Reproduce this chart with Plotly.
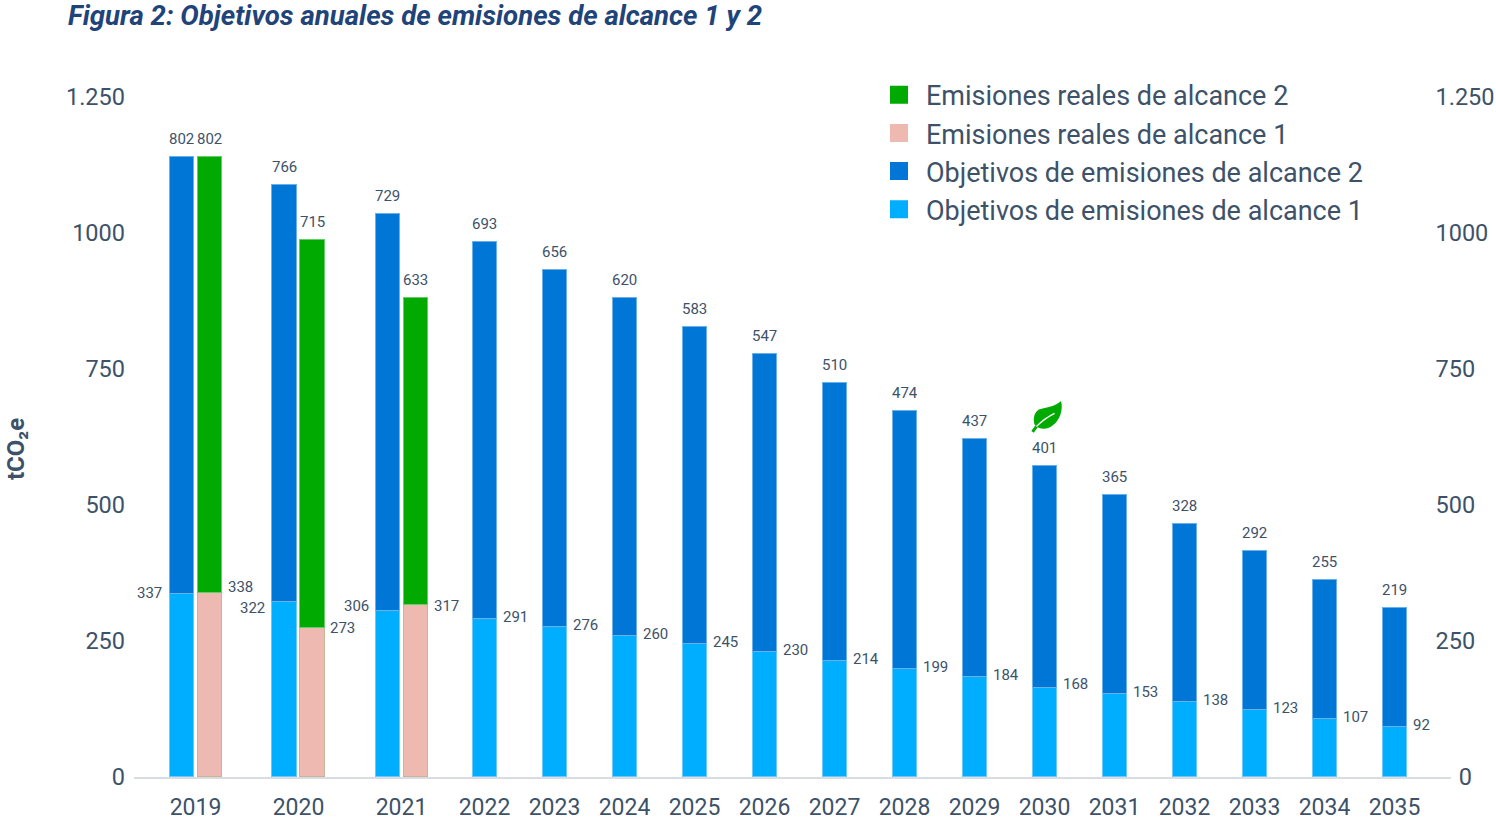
import plotly.graph_objects as go

years = list(range(2019, 2036))
target_s1_labels = [337, 322, 306, 291, 276, 260, 245, 230, 214, 199, 184, 168, 153, 138, 123, 107, 92]
target_s2_labels = [802, 766, 729, 693, 656, 620, 583, 547, 510, 474, 437, 401, 365, 328, 292, 255, 219]
# drawn bar heights (2030 is drawn slightly differently from its printed labels in the picture)
target_s1 = [337, 322, 306, 291, 276, 260, 245, 230, 214, 199, 184, 163, 153, 138, 123, 107, 92]
target_s2 = [802, 766, 729, 693, 656, 620, 583, 547, 510, 474, 437, 408, 365, 328, 292, 255, 219]
actual_years = [2019, 2020, 2021]
actual_s1 = [338, 273, 317]
actual_s2 = [802, 715, 563]          # drawn heights
actual_s2_labels = [802, 715, 633]   # printed labels (2021 label differs from its bar in the picture)
y_ticks = [0, 250, 500, 750, 1000, 1250]
y_ticktext = ["0", "250", "500", "750", "1000", "1.250"]
y2_ticktext = ["\u00a0\u00a0\u00a0\u00a00", "250", "500", "750", "1000", "1.250"]

# Layout: slot position of each year on the shared x axis (2019-2021 are wider, paired groups)
slot = {2019: 0.0, 2020: 1.471, 2021: 2.943}
for i, yr in enumerate(range(2022, 2036)):
    slot[yr] = 4.129 + i
BAR_W = 0.343
PAIR_OFF = 0.2

C_TEXT = "#3d5269"
C_TITLE = "#1f4479"
C_S1 = "#00aeff"
C_S2 = "#0076d6"
C_A1 = "#edb9b0"
C_A2 = "#00aa00"
FONT = "Roboto"

target_x = [slot[y] - PAIR_OFF if y in actual_years else slot[y] for y in years]
actual_x = [slot[y] + PAIR_OFF for y in actual_years]

fig = go.Figure()
fig.add_bar(x=target_x, y=target_s1, width=BAR_W, marker=dict(color=C_S1, line=dict(color="#6cc9fb", width=1)), showlegend=False)
fig.add_bar(x=target_x, y=target_s2, width=BAR_W, marker=dict(color=C_S2, line=dict(color="#6cb0ea", width=1)), showlegend=False)
fig.add_bar(x=actual_x, y=actual_s1, width=BAR_W, marker=dict(color=C_A1, line=dict(color="#c5b795", width=1)), showlegend=False)
fig.add_bar(x=actual_x, y=actual_s2, width=BAR_W, marker=dict(color=C_A2, line=dict(color="#66cc66", width=1)), showlegend=False)

for name, col in [("Emisiones reales de alcance 2", C_A2), ("Emisiones reales de alcance 1", C_A1),
                  ("Objetivos de emisiones de alcance 2", C_S2), ("Objetivos de emisiones de alcance 1", C_S1)]:
    fig.add_scatter(x=[None], y=[None], yaxis="y2", mode="markers", name=name,
                    marker=dict(symbol="square", size=16, color=col, line=dict(color=col, width=2)))

lab = dict(showarrow=False, font=dict(family=FONT, size=15, color=C_TEXT), yanchor="middle")
half = (BAR_W + 1 / 70) / 2

# totals above bars
for x, a, b, t in zip(target_x, target_s1, target_s2, target_s2_labels):
    fig.add_annotation(x=x, y=a + b, text=str(t), xanchor="center", yshift=18, **lab)
for x, a, b, t in zip(actual_x, actual_s1, actual_s2, actual_s2_labels):
    fig.add_annotation(x=x, y=a + b, text=str(t), xanchor="center", yshift=18, **lab)

# scope 1 labels
for yr, x, a in zip(years, target_x, target_s1_labels):
    if yr in actual_years:
        continue
    fig.add_annotation(x=x + half, y=a, text=str(a), xanchor="left", xshift=3.5, yshift=2, **lab)
first_shift = [1, -6, 5]
first_xshift = [-5.5, -4.5, -4.5]
for x, a, s, dx in zip(target_x[:3], target_s1_labels[:3], first_shift, first_xshift):
    fig.add_annotation(x=x - half, y=a, text=str(a), xanchor="right", xshift=dx, yshift=s, **lab)
actual_shift = [6, 0, -1]
actual_xshift = [4, 2.5, 4]
for x, a, s, dx in zip(actual_x, actual_s1, actual_shift, actual_xshift):
    fig.add_annotation(x=x + half, y=a, text=str(a), xanchor="left", xshift=dx, yshift=s, **lab)

# axis title
fig.add_annotation(xref="paper", yref="paper", x=(16.5 - 134) / 1317, y=(777 - 449.5) / 680, text="<b>tCO₂e</b>",
                   textangle=-90, showarrow=False, xanchor="center", yanchor="middle",
                   font=dict(family=FONT, size=24, color=C_TEXT))

# leaf icon above the 2030 bar (pixel offsets from bar top)
i2030 = years.index(2030)
leaf_y = target_s1[i2030] + target_s2[i2030]
leaf_common = dict(type="path", xref="x", yref="y", xsizemode="pixel", ysizemode="pixel",
                   xanchor=slot[2030], yanchor=leaf_y)
fig.add_shape(path="M 16.5 65.5 C 12 61 5 59.5 -4 57.5 C -10 56 -12 48 -10 42 C -6 37 2 36 8 41 C 15 46 19 56 16.5 65.5 Z",
              fillcolor=C_A2, line=dict(width=0), **leaf_common)
fig.add_shape(path="M -12 34.5 L -8 40", line=dict(color=C_A2, width=3), **leaf_common)
fig.add_shape(path="M -8 40 C -2 46 4 50 10 53", line=dict(color="white", width=1.4), **leaf_common)

tick_font = dict(family=FONT, size=23, color=C_TEXT)
y_font = dict(family=FONT, size=23.5, color=C_TEXT)
fig.update_layout(
    width=1496, height=824, margin=dict(l=134, r=45, t=97, b=47),
    paper_bgcolor="white", plot_bgcolor="white", barmode="stack", bargap=0,
    title=dict(text="<b><i>Figura 2: Objetivos anuales de emisiones de alcance 1 y 2</i></b>",
               x=68 / 1496, xanchor="left", y=1 - 15 / 824, yanchor="middle",
               font=dict(family=FONT, size=27.6, color=C_TITLE)),
    xaxis=dict(automargin=False, range=[-0.879, 17.936], tickmode="array", tickvals=[slot[y] for y in years],
               ticktext=[str(y) for y in years], tickfont=tick_font, showgrid=False, zeroline=False,
               showline=True, linecolor="#d9dde3", linewidth=1.5, ticks="outside", ticklen=9,
               tickcolor="rgba(0,0,0,0)"),
    yaxis=dict(automargin=False, range=[0, 1250], tickmode="array", tickvals=y_ticks, ticktext=y_ticktext, tickfont=y_font,
               showgrid=False, zeroline=False, ticklabelstandoff=8),
    yaxis2=dict(automargin=False, range=[0, 1250], overlaying="y", side="right", anchor="free", position=(1434.5 - 134) / 1317,
                tickmode="array", tickvals=y_ticks, ticktext=y2_ticktext, tickfont=y_font,
                showgrid=False, zeroline=False, showline=False),
    legend=dict(x=(872 - 134) / 1317, xanchor="left", y=1.0385, yanchor="top", orientation="v",
                traceorder="normal", bgcolor="rgba(0,0,0,0)", itemwidth=44,
                font=dict(family=FONT, size=27, color=C_TEXT)),
)
fig.write_html("out.html", post_script="document.body.style.margin='0';", config=dict(displayModeBar=False))
